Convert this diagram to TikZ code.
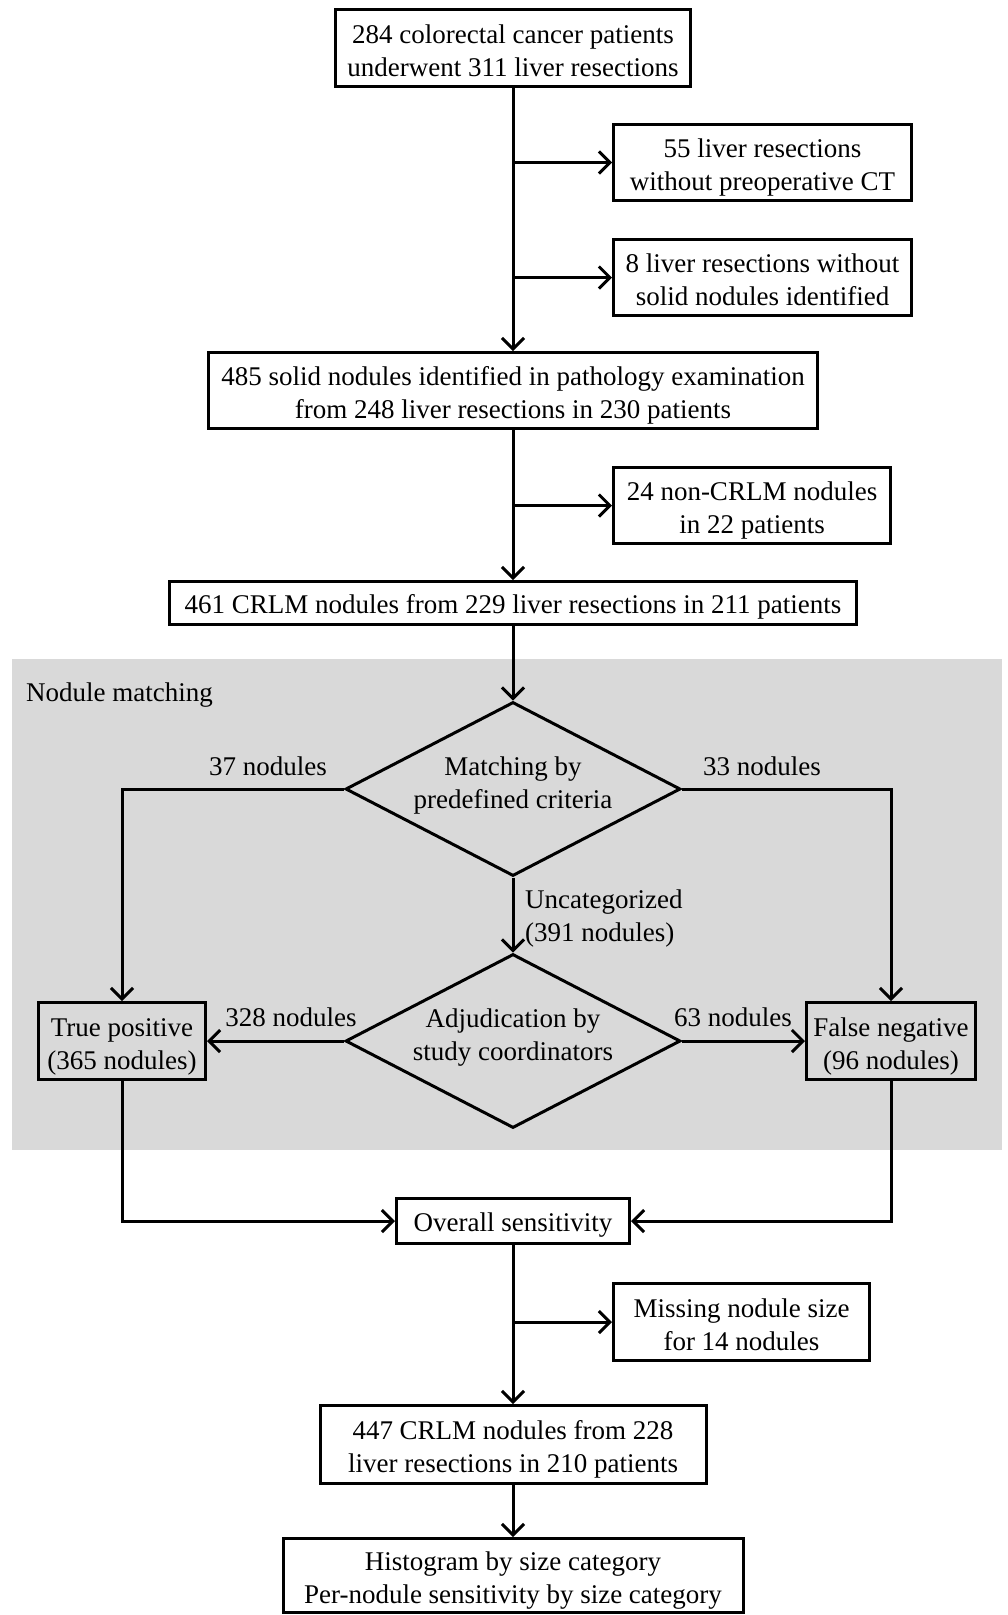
\documentclass[tikz,border=0pt]{standalone}
\usepackage{fontspec}
\setmainfont{Liberation Serif}
\usetikzlibrary{shapes.geometric,arrows.meta}
\definecolor{panelgray}{HTML}{D9D9D9}
\newcommand\tstr{\rule[-6pt]{0pt}{35.5pt}}
\newcommand\bstr{\rule[-6pt]{0pt}{12pt}}
\newcommand\dtop{\rule{0pt}{19pt}}
\newcommand\dbot{\rule[-14pt]{0pt}{14pt}}
\begin{document}
\begin{tikzpicture}[x=1pt,y=-1pt,
  txt/.style={font=\fontsize{27}{33}\selectfont},
  box/.style={txt, draw, line width=3pt, align=center, inner sep=0pt},
  onebox/.style={txt, draw, line width=3pt, align=center, inner sep=0pt,
    execute at begin node={\rule[-6pt]{0pt}{32pt}}},
  dia/.style={txt, draw, diamond, line width=3pt, align=center, inner sep=0pt, aspect=1.925, minimum width=335pt, minimum height=174pt},
  lbl/.style={txt, inner sep=0pt},
  conn/.style={line width=3pt},
  arr/.style={conn, -{Straight Barb[length=11pt,width=22pt]}}]
\useasboundingbox (0,0) rectangle (1008,1615);
\clip (0,0) rectangle (1008,1615);
\fill[panelgray] (12,659) rectangle (1002,1150);
\node[lbl, anchor=west] (nm) at (26,695) {Nodule matching};

\node[box, minimum width=355pt, minimum height=77pt] (b1) at (513,48) {\tstr 284 colorectal cancer patients\\underwent 311 liver resections\bstr};
\node[box, minimum width=298pt, minimum height=76pt] (b55) at (762.5,162.5) {\tstr 55 liver resections\\without preoperative CT\bstr};
\node[box, minimum width=298pt, minimum height=76pt] (b8) at (762.5,277.5) {\tstr 8 liver resections without\\solid nodules identified\bstr};
\node[box, minimum width=609pt, minimum height=76pt] (b485) at (513,390.5) {\tstr 485 solid nodules identified in pathology examination\\from 248 liver resections in 230 patients\bstr};
\node[box, minimum width=277pt, minimum height=76pt] (b24) at (752,505.5) {\tstr 24 non-CRLM nodules\\in 22 patients\bstr};
\node[onebox, minimum width=687pt, minimum height=43pt] (b461) at (513,603) {461 CRLM nodules from 229 liver resections in 211 patients};

\node[dia] (d1) at (513,789) {\dtop Matching by\\predefined criteria\dbot};
\node[dia] (d2) at (513,1041) {\dtop Adjudication by\\study coordinators\dbot};
\node[box, minimum width=167pt, minimum height=77pt] (tp) at (122,1041) {\tstr True positive\\(365 nodules)\bstr};
\node[box, minimum width=169pt, minimum height=77pt] (fn) at (891,1041) {\tstr False negative\\(96 nodules)\bstr};

\node[lbl] (l37) at (268,766) {37 nodules};
\node[lbl] (l33) at (762,766) {33 nodules};
\node[lbl, anchor=west, align=left] (lunc) at (525,918.5) {Uncategorized\\(391 nodules)};
\node[lbl] (l328) at (291,1017) {328 nodules};
\node[lbl] (l63) at (733,1017) {63 nodules};

\node[onebox, minimum width=233pt, minimum height=45pt] (ov) at (513,1221) {Overall sensitivity};
\node[box, minimum width=256pt, minimum height=77pt] (miss) at (741.5,1322) {\tstr Missing nodule size\\for 14 nodules\bstr};
\node[box, minimum width=386pt, minimum height=78pt] (b447) at (513,1444.5) {\tstr 447 CRLM nodules from 228\\liver resections in 210 patients\bstr};
\node[box, minimum width=460pt, minimum height=74pt] (hist) at (513,1575.5) {\tstr Histogram by size category\\Per-nodule sensitivity by size category\bstr};

\draw[arr] (b1.south) -- (b485.north);
\draw[arr] (b1.south |- b55.west) -- (b55.west);
\draw[arr] (b1.south |- b8.west) -- (b8.west);
\draw[arr] (b485.south) -- (b461.north);
\draw[arr] (b485.south |- b24.west) -- (b24.west);
\draw[arr] (b461.south) -- (d1.north);
\draw[arr] (d1.west) -| (tp.north);
\draw[arr] (d1.east) -| (fn.north);
\draw[arr] (d1.south) -- (d2.north);
\draw[arr] (d2.west) -- (tp.east);
\draw[arr] (d2.east) -- (fn.west);
\draw[arr] (tp.south) |- (ov.west);
\draw[arr] (fn.south) |- (ov.east);
\draw[arr] (ov.south) -- (b447.north);
\draw[arr] (ov.south |- miss.west) -- (miss.west);
\draw[arr] (b447.south) -- (hist.north);
\end{tikzpicture}
\end{document}
